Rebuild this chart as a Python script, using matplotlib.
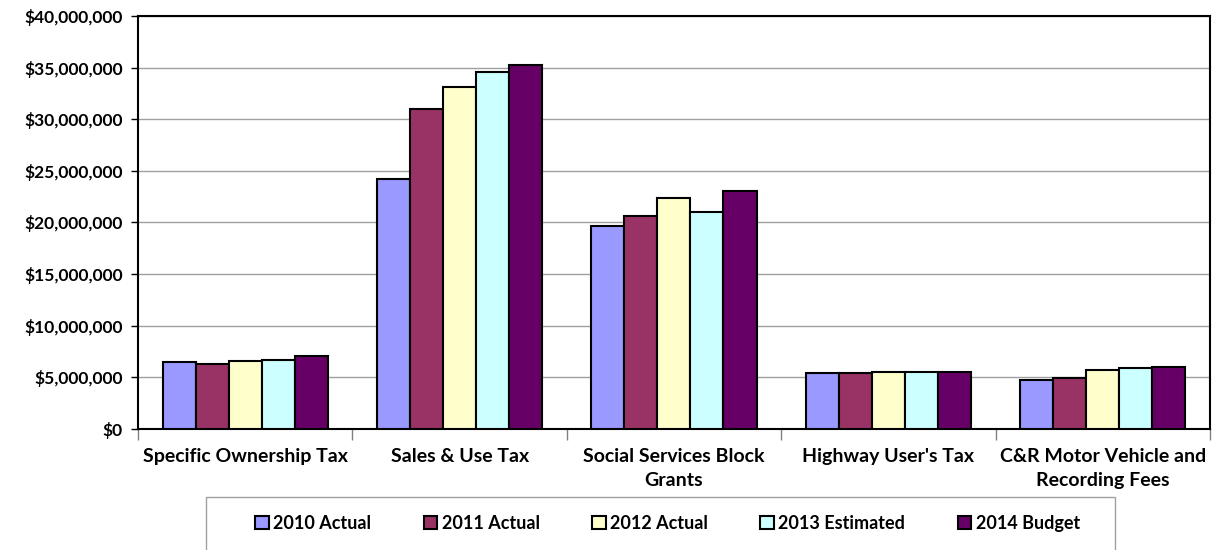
import numpy as np
import matplotlib.pyplot as plt
from matplotlib.patches import Rectangle
from matplotlib.ticker import FuncFormatter, MultipleLocator

plt.rcParams['font.family'] = ['Lato', 'DejaVu Sans']
plt.rcParams['font.weight'] = 'bold'

categories = ["Specific Ownership Tax", "Sales & Use Tax", "Social Services Block\nGrants",
              "Highway User's Tax", "C&R Motor Vehicle and\nRecording Fees"]
series = ["2010 Actual", "2011 Actual", "2012 Actual", "2013 Estimated", "2014 Budget"]
actual_2010 = [6490000, 24200000, 19650000, 5420000, 4740000]
actual_2011 = [6300000, 31000000, 20600000, 5450000, 4940000]
actual_2012 = [6600000, 33150000, 22400000, 5500000, 5700000]
estimated_2013 = [6700000, 34600000, 21000000, 5520000, 5900000]
budget_2014 = [7070000, 35250000, 23050000, 5520000, 6000000]
values = [actual_2010, actual_2011, actual_2012, estimated_2013, budget_2014]
colors = ["#9999ff", "#993366", "#ffffcc", "#ccffff", "#660066"]

fig = plt.figure(figsize=(12.16, 5.5), dpi=100)
ax = fig.add_axes([0.1135, 0.22, 0.8815, 0.751])

x = np.arange(len(categories))
width = 0.154
for i, (name, vals, c) in enumerate(zip(series, values, colors)):
    ax.bar(x + (i - 2) * width, vals, width, color=c, edgecolor='black',
           linewidth=1.5, label=name, zorder=3)

ax.set_xlim(-0.5, len(categories) - 0.5)
ax.set_ylim(0, 40000000)
ax.yaxis.set_major_locator(MultipleLocator(5000000))
ax.yaxis.set_major_formatter(FuncFormatter(lambda v, p: f"${v:,.0f}"))
ax.grid(axis='y', color='#a0a0a0', linewidth=1, zorder=0)

ax.set_xticks(x)
ax.set_xticklabels(categories, fontsize=14, fontweight='bold', linespacing=1.45)
ax.set_xticks(np.arange(len(categories) + 1) - 0.5, minor=True)
ax.tick_params(axis='x', which='major', length=0, pad=14)
ax.tick_params(axis='x', which='minor', length=8, width=1, color='#808080')
ax.tick_params(axis='y', length=5, width=1, labelsize=12.5, pad=6)
for lbl in ax.get_yticklabels():
    lbl.set_fontweight('bold')
for s in ax.spines.values():
    s.set_linewidth(1.5)
    s.set_color('black')

# legend box, open at the bottom edge of the figure
fig.patches.append(Rectangle((0.169, -0.05), 0.748, 0.146, transform=fig.transFigure,
                             facecolor='white', edgecolor='#a0a0a0', linewidth=1))
fig.legend(loc='center', bbox_to_anchor=(0.549, 0.049), ncol=5, frameon=False,
           prop={'size': 13, 'weight': 'bold'}, handlelength=0.75, handleheight=0.75,
           handletextpad=0.25, columnspacing=2.9)

fig.savefig('out.png', dpi=100)
